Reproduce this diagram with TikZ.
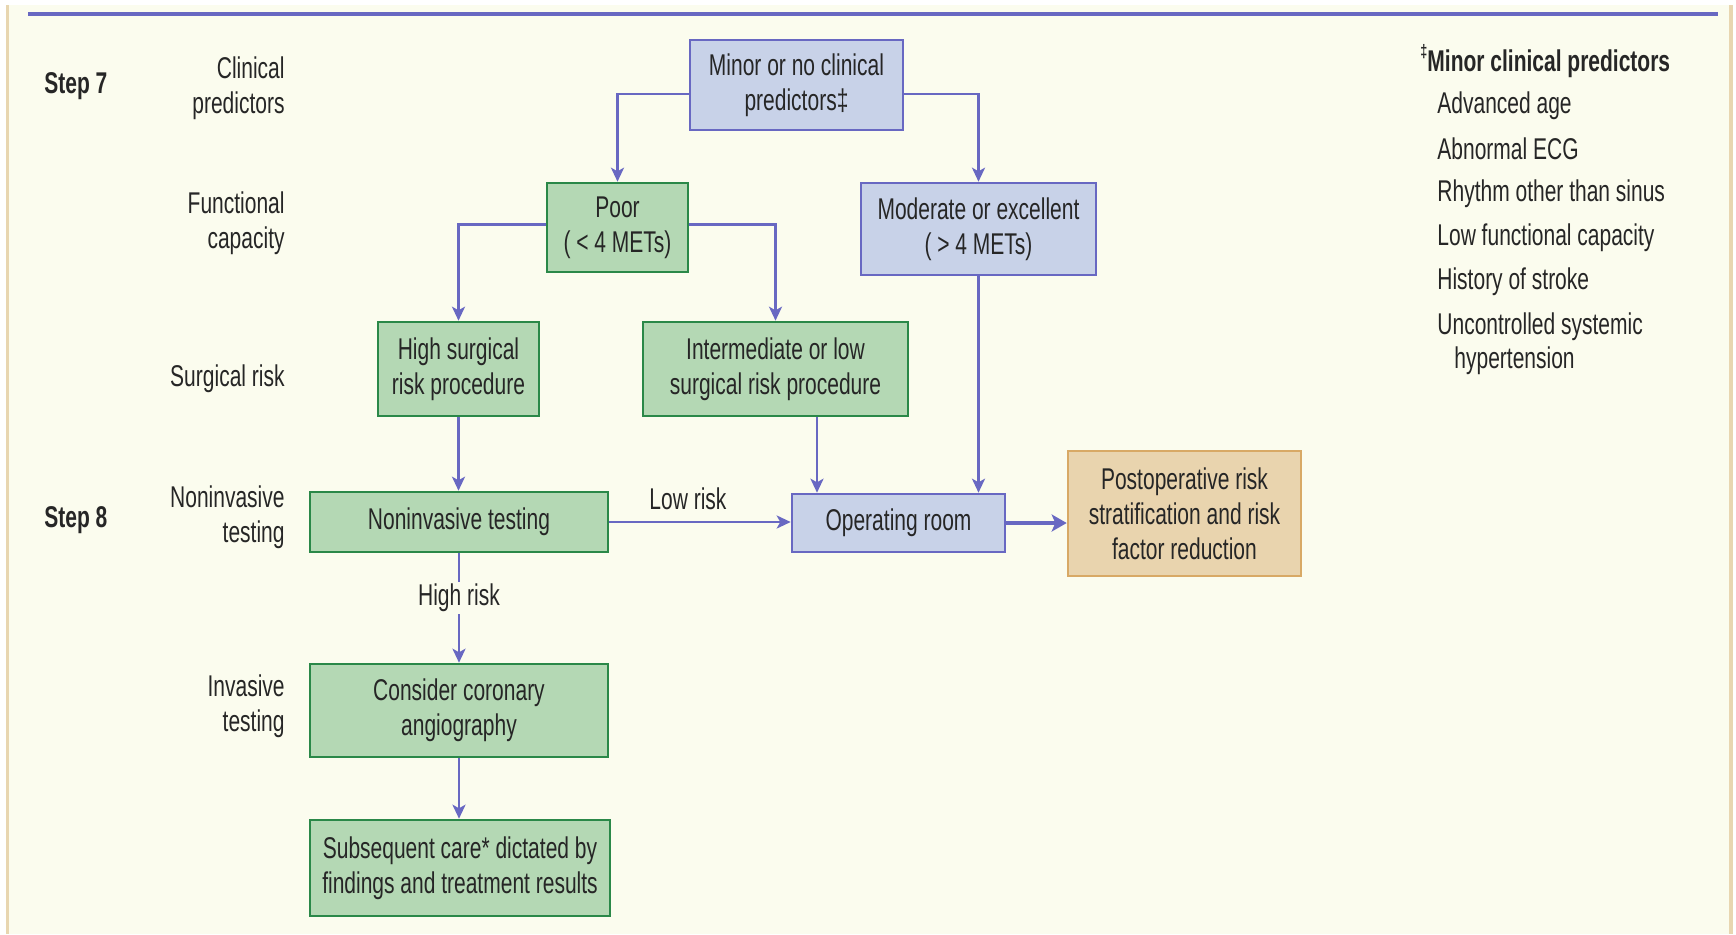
\documentclass[tikz,border=0pt]{standalone}
\usepackage{fontspec}
\setmainfont{Liberation Sans}[FakeStretch=0.7]
\usetikzlibrary{arrows.meta,calc}

\definecolor{bg}{HTML}{FBFCEE}
\definecolor{edgetan}{HTML}{E8D6B0}
\definecolor{flowblue}{HTML}{6868C2}
\definecolor{bluefill}{HTML}{C8D2E8}
\definecolor{greenfill}{HTML}{B4D8B4}
\definecolor{greenline}{HTML}{2A8848}
\definecolor{tanfill}{HTML}{E9D4AE}
\definecolor{tanline}{HTML}{D8A965}
\definecolor{ink}{HTML}{262626}

\tikzset{
  sz/.style 2 args={minimum width=#1*0.5pt, minimum height=#2*0.5pt},
  boxbase/.style={rectangle, inner sep=0pt, align=center, text=ink,
    font=\fontsize{15}{17.5}\selectfont, line width=1.3pt},
  bluebox/.style={boxbase, fill=bluefill, draw=flowblue},
  greenbox/.style={boxbase, fill=greenfill, draw=greenline},
  tanbox/.style={boxbase, fill=tanfill, draw=tanline},
  rowlabel/.style={anchor=east, align=right, inner sep=0pt, text=ink,
    font=\fontsize{15}{17.5}\selectfont},
  steplabel/.style={anchor=west, inner sep=0pt, text=ink,
    font=\fontsize{15}{17.5}\selectfont\bfseries},
  legenditem/.style={anchor=west, inner sep=0pt, text=ink,
    font=\fontsize{15}{17.5}\selectfont},
  edgelabel/.style={inner sep=1pt, fill=bg, text=ink,
    font=\fontsize{15}{17.5}\selectfont},
  arr/.style={draw=flowblue, line width=1.4pt,
    -{Stealth[length=7pt, width=6.5pt, inset=1.8pt]}},
  bigarr/.style={draw=flowblue, line width=2.4pt,
    -{Stealth[length=7.5pt, width=8.5pt, inset=1.8pt]}},
}

\begin{document}
\begin{tikzpicture}[x=0.5pt, y=-0.5pt]
  \useasboundingbox (0,0) rectangle (1736,934);

  % page background and frame
  \fill[white] (0,0) rectangle (1736,934);
  \fill[bg] (6,5) rectangle (1732,934);
  \draw[edgetan, line width=1.6pt] (7.5,5) -- (7.5,934);
  \draw[edgetan, line width=1.6pt] (1731,5) -- (1731,934);
  \draw[flowblue, line width=1.6pt] (28,14) -- (1718,14);

  % step markers and row headings
  \node[steplabel] (step7) at (44,86) {Step 7};
  \node[steplabel] (step8) at (44,520) {Step 8};
  \node[rowlabel] (lclin) at (285,88) {Clinical\\predictors};
  \node[rowlabel] (lfunc) at (285,223) {Functional\\capacity};
  \node[rowlabel] (lsurg) at (285,379) {Surgical risk};
  \node[rowlabel] (lnon)  at (285,517) {Noninvasive\\testing};
  \node[rowlabel] (linv)  at (285,706) {Invasive\\testing};

  % flow boxes
  \node[bluebox, sz={213}{90}]   (minor)    at (796.5,85)   {Minor or no clinical\\predictors‡};
  \node[greenbox, sz={141}{89}]  (poor)     at (617.5,227.5){Poor\\( < 4 METs)};
  \node[bluebox, sz={235}{92}]   (moderate) at (978.5,229)  {Moderate or excellent\\( > 4 METs)};
  \node[greenbox, sz={161}{94}]  (high)     at (458.5,369)  {High surgical\\risk procedure};
  \node[greenbox, sz={265}{94}]  (inter)    at (775.5,369)  {Intermediate or low\\surgical risk procedure};
  \node[greenbox, sz={298}{60}]  (nonin)    at (459,522)    {Noninvasive testing};
  \node[bluebox, sz={213}{58}]   (oproom)   at (898.5,523)  {Operating room};
  \node[tanbox, sz={233}{125}]   (postop)   at (1184.5,513.5){Postoperative risk\\stratification and risk\\factor reduction};
  \node[greenbox, sz={298}{93}]  (consider) at (459,710.5)  {Consider coronary\\angiography};
  \node[greenbox, sz={300}{96}]  (subseq)   at (460,868)    {Subsequent care* dictated by\\findings and treatment results};

  % connectors
  \coordinate (minorL) at ($(minor.west)+(0,9)$);
  \coordinate (minorR) at ($(minor.east)+(0,9)$);
  \draw[arr] (minorL) -| (poor.north);
  \draw[arr] (minorR) -| (moderate.north);
  \draw[arr] ($(poor.west)+(0,-3)$) -| (high.north);
  \draw[arr] ($(poor.east)+(0,-3)$) -| (inter.north);
  \draw[arr] (high.south) -- (high.south |- nonin.north);
  \coordinate (interdrop) at (817,0);
  \draw[arr] (inter.south -| interdrop) -- (oproom.north -| interdrop);
  \draw[arr] (moderate.south) -- (moderate.south |- oproom.north);
  \draw[arr] (nonin.east) -- (nonin.east -| oproom.west);
  \draw[bigarr] (oproom.east) -- (oproom.east -| postop.west);
  \draw[arr] (nonin.south) -- (consider.north);
  \draw[arr] (consider.south) -- (consider.south |- subseq.north);

  % connector labels
  \node[edgelabel, fill=none] (lowrisk) at (688,499) {Low risk};
  \node[edgelabel] (highrisk) at (459,598) {High risk};

  % footnote list
  \node[legenditem, font=\fontsize{15}{17.5}\selectfont\bfseries] (leghead) at (1420,61)
    {\raisebox{0.45em}{\fontsize{9}{9}\selectfont ‡}Minor clinical predictors};
  \node[legenditem] (leg1) at (1437,106) {Advanced age};
  \node[legenditem] (leg2) at (1437,149) {Abnormal ECG};
  \node[legenditem] (leg3) at (1437,194) {Rhythm other than sinus};
  \node[legenditem] (leg4) at (1437,238) {Low functional capacity};
  \node[legenditem] (leg5) at (1437,282) {History of stroke};
  \node[legenditem] (leg6) at (1437,327) {Uncontrolled systemic};
  \node[legenditem] (leg7) at (1454,361) {hypertension};
\end{tikzpicture}
\end{document}
